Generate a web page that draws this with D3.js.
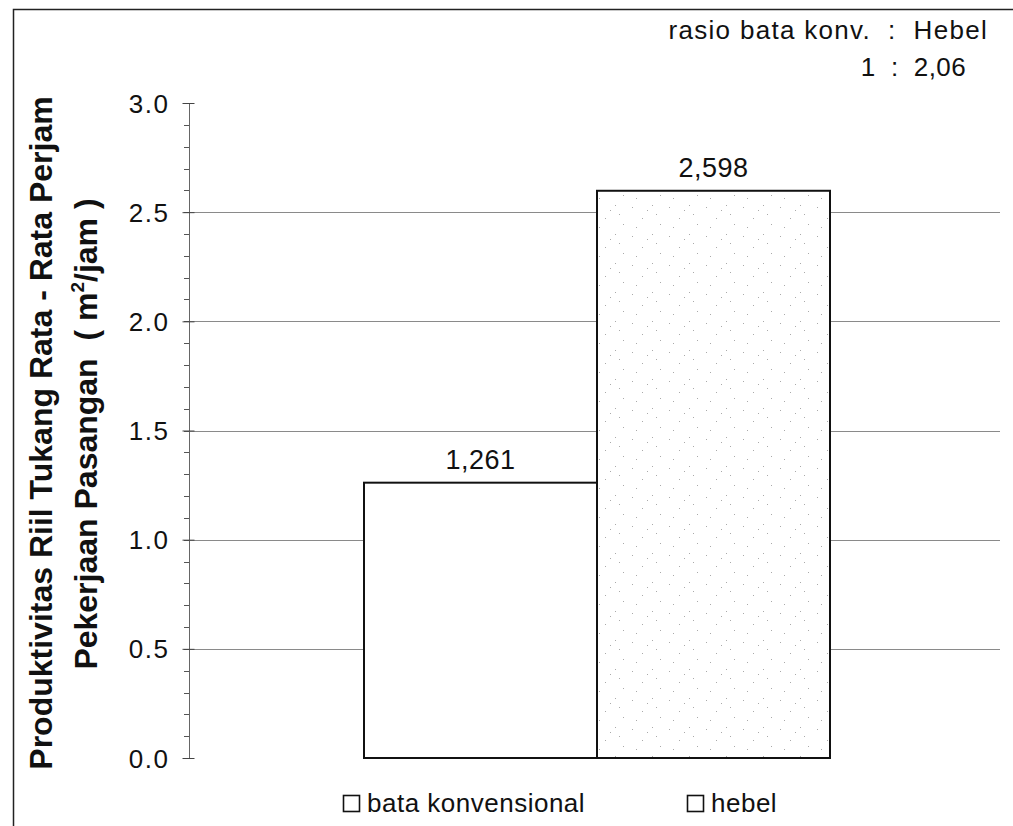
<!DOCTYPE html>
<html>
<head>
<meta charset="utf-8">
<script src="https://cdn.jsdelivr.net/npm/d3@7"></script>
<style>
  body { margin: 0; background: #fff; }
  svg text { font-family: "Liberation Sans", Arial, sans-serif; fill: #111; }
</style>
</head>
<body>
<div class="main"></div>
<script>
//// data
const categories = ['bata konvensional', 'hebel'];
const values = [1.261, 2.598];
const valueLabels = ['1,261', '2,598'];
const yTicks = [0, 0.5, 1.0, 1.5, 2.0, 2.5, 3.0];
const ratioLines = ['rasio bata konv.  :  Hebel', '1  :  2,06'];
const titleLines = ['Produktivitas Riil Tukang Rata - Rata Perjam', 'Pekerjaan Pasangan  ( m', '/jam )'];

////Globals
const width = 1013;
const height = 826;
const svg = d3.select('.main').append('svg')
  .attr('width', width)
  .attr('height', height);

// stipple for the hebel bar
const defs = svg.append('defs');
const pat = defs.append('pattern')
  .attr('id', 'stip')
  .attr('patternUnits', 'userSpaceOnUse')
  .attr('width', 37).attr('height', 29);
pat.append('rect').attr('width', 37).attr('height', 29).attr('fill', '#fff');
[[3, 4], [23, 2], [13, 15], [31, 21], [7, 24], [27, 11], [18, 7]].forEach(p => {
  pat.append('rect').attr('x', p[0]).attr('y', p[1]).attr('width', 1).attr('height', 1).attr('fill', '#aaa');
});

// frame
svg.append('path')
  .attr('d', 'M13.5,826 V9.5 H1013')
  .attr('fill', 'none').attr('stroke', '#222').attr('stroke-width', 1.5);

const axisX = 189;
const x = d3.scaleBand().domain(categories).range([364, 830]).padding(0);
const y = d3.scaleLinear().domain([0, 3]).range([758, 103]);
const plotRight = 1000;

// gridlines
svg.append('g')
  .selectAll('line')
  .data(yTicks.filter(t => t > 0 && t < 3))
  .enter()
  .append('line')
  .attr('x1', axisX).attr('x2', plotRight)
  .attr('y1', d => Math.round(y(d)) + 0.5).attr('y2', d => Math.round(y(d)) + 0.5)
  .attr('stroke', '#8a8a8a').attr('stroke-width', 1);

// minor ticks
svg.append('g')
  .selectAll('line')
  .data(d3.range(0, 31).map(i => i / 10))
  .enter()
  .append('line')
  .attr('x1', axisX - 5).attr('x2', axisX)
  .attr('y1', d => Math.round(y(d)) + 0.5).attr('y2', d => Math.round(y(d)) + 0.5)
  .attr('stroke', '#555');

// y axis
const yAxis = d3.axisLeft(y)
  .tickValues(yTicks)
  .tickFormat(d3.format('.1f'))
  .tickSize(7)
  .tickPadding(13);
const ya = svg.append('g')
  .attr('transform', `translate(${axisX + 0.5},0)`)
  .call(yAxis);
ya.select('.domain').attr('stroke', '#666').attr('d', `M0,${y(3)}V${y(0)}`);
ya.selectAll('.tick line').attr('stroke', '#444').attr('x2', -7).attr('x1', 5);
ya.selectAll('.tick text')
  .attr('font-size', 26)
  .attr('letter-spacing', 1.5)
  .attr('font-family', '"Liberation Sans", Arial, sans-serif')
  .attr('fill', '#111')
  .attr('dy', '0.35em');

// bars
svg.append('g')
  .selectAll('rect')
  .data(values)
  .enter()
  .append('rect')
  .attr('x', (d, i) => x(categories[i]))
  .attr('y', d => y(d))
  .attr('width', x.bandwidth())
  .attr('height', d => y(0) - y(d))
  .attr('fill', (d, i) => i === 1 ? 'url(#stip)' : '#fff')
  .attr('stroke', '#111')
  .attr('stroke-width', 2);

// value labels
svg.append('g')
  .selectAll('text')
  .data(values)
  .enter()
  .append('text')
  .attr('x', (d, i) => x(categories[i]) + x.bandwidth() / 2)
  .attr('y', d => y(d) - 14)
  .attr('text-anchor', 'middle')
  .attr('font-size', 27)
  .attr('letter-spacing', 0.5)
  .text((d, i) => valueLabels[i]);

// ratio note
svg.append('text')
  .attr('x', 988).attr('y', 39)
  .attr('text-anchor', 'end')
  .attr('font-size', 26)
  .attr('letter-spacing', 1.3)
  .style('white-space', 'pre')
  .text(ratioLines[0]);
svg.append('text')
  .attr('x', 966).attr('y', 76)
  .attr('text-anchor', 'end')
  .attr('font-size', 26)
  .attr('letter-spacing', 0.4)
  .style('white-space', 'pre')
  .text(ratioLines[1]);

// y title
svg.append('text')
  .attr('transform', 'translate(52,433) rotate(-90)')
  .attr('text-anchor', 'middle')
  .attr('font-size', 32)
  .attr('font-weight', 'bold')
  .text(titleLines[0]);
const t2 = svg.append('text')
  .attr('transform', 'translate(97,434) rotate(-90)')
  .attr('text-anchor', 'middle')
  .attr('font-size', 32)
  .attr('font-weight', 'bold')
  .style('white-space', 'pre');
t2.append('tspan').text(titleLines[1]);
t2.append('tspan').attr('dy', -13).attr('font-size', 19).text('2');
t2.append('tspan').attr('dy', 13).text(titleLines[2]);

// legend
const legendX = [343, 687];
const lg = svg.append('g')
  .selectAll('g')
  .data(categories)
  .enter()
  .append('g')
  .attr('transform', (d, i) => `translate(${legendX[i]},795)`);
lg.append('rect')
  .attr('x', 0.5).attr('y', 0.5)
  .attr('width', 16).attr('height', 16)
  .attr('fill', '#fff').attr('stroke', '#111').attr('stroke-width', 1.6);
lg.append('text')
  .attr('x', 24).attr('y', 17)
  .attr('font-size', 26)
  .attr('letter-spacing', 0.5)
  .text(d => d);
</script>
</body>
</html>
